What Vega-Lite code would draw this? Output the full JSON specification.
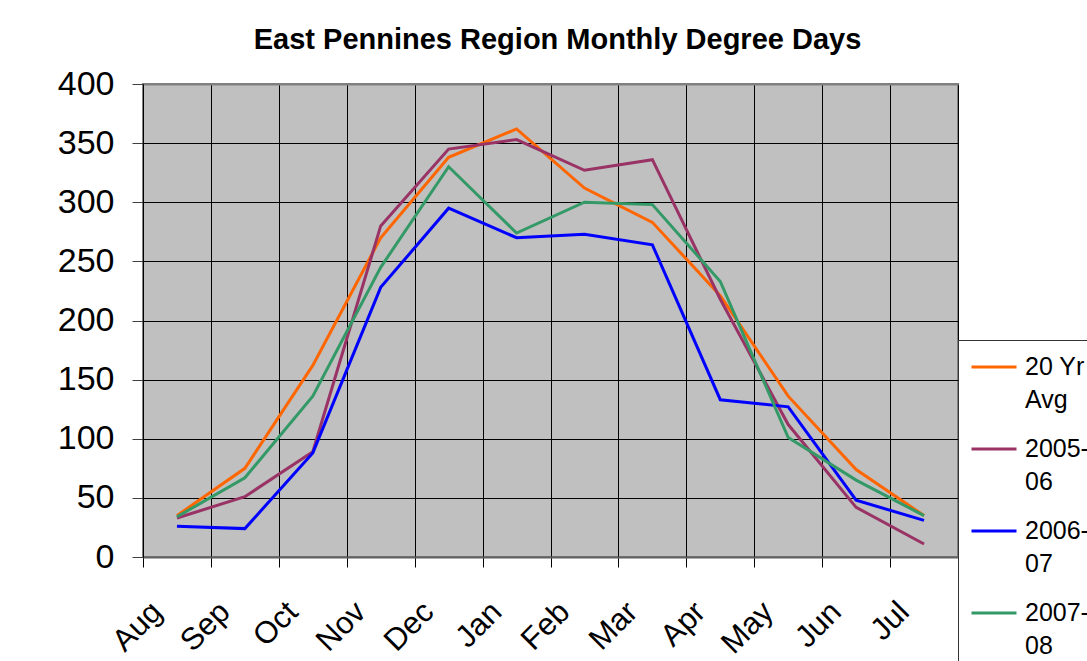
{
  "$schema": "https://vega.github.io/schema/vega-lite/v6.json",
  "width": 815,
  "height": 473,
  "autosize": "none",
  "padding": {"left": 143, "top": 84, "right": 129, "bottom": 104},
  "background": "white",
  "title": {
    "text": "East Pennines Region Monthly Degree Days",
    "font": "Liberation Sans",
    "fontSize": 29,
    "fontWeight": "bold",
    "color": "black",
    "anchor": "middle",
    "frame": "group",
    "baseline": "alphabetic",
    "offset": -11,
    "dx": 7
  },
  "data": {
    "values": [
      {"month": "Aug", "series": "20 Yr Avg", "value": 35},
      {"month": "Sep", "series": "20 Yr Avg", "value": 75},
      {"month": "Oct", "series": "20 Yr Avg", "value": 162},
      {"month": "Nov", "series": "20 Yr Avg", "value": 270},
      {"month": "Dec", "series": "20 Yr Avg", "value": 338},
      {"month": "Jan", "series": "20 Yr Avg", "value": 362},
      {"month": "Feb", "series": "20 Yr Avg", "value": 312},
      {"month": "Mar", "series": "20 Yr Avg", "value": 283},
      {"month": "Apr", "series": "20 Yr Avg", "value": 221},
      {"month": "May", "series": "20 Yr Avg", "value": 136},
      {"month": "Jun", "series": "20 Yr Avg", "value": 74},
      {"month": "Jul", "series": "20 Yr Avg", "value": 35},
      {"month": "Aug", "series": "2005-06", "value": 33},
      {"month": "Sep", "series": "2005-06", "value": 51},
      {"month": "Oct", "series": "2005-06", "value": 89},
      {"month": "Nov", "series": "2005-06", "value": 280},
      {"month": "Dec", "series": "2005-06", "value": 345},
      {"month": "Jan", "series": "2005-06", "value": 353},
      {"month": "Feb", "series": "2005-06", "value": 327},
      {"month": "Mar", "series": "2005-06", "value": 336},
      {"month": "Apr", "series": "2005-06", "value": 218},
      {"month": "May", "series": "2005-06", "value": 112},
      {"month": "Jun", "series": "2005-06", "value": 42},
      {"month": "Jul", "series": "2005-06", "value": 11},
      {"month": "Aug", "series": "2006-07", "value": 26},
      {"month": "Sep", "series": "2006-07", "value": 24},
      {"month": "Oct", "series": "2006-07", "value": 88},
      {"month": "Nov", "series": "2006-07", "value": 228},
      {"month": "Dec", "series": "2006-07", "value": 295},
      {"month": "Jan", "series": "2006-07", "value": 270},
      {"month": "Feb", "series": "2006-07", "value": 273},
      {"month": "Mar", "series": "2006-07", "value": 264},
      {"month": "Apr", "series": "2006-07", "value": 133},
      {"month": "May", "series": "2006-07", "value": 127},
      {"month": "Jun", "series": "2006-07", "value": 48},
      {"month": "Jul", "series": "2006-07", "value": 31},
      {"month": "Aug", "series": "2007-08", "value": 34},
      {"month": "Sep", "series": "2007-08", "value": 67},
      {"month": "Oct", "series": "2007-08", "value": 136},
      {"month": "Nov", "series": "2007-08", "value": 245},
      {"month": "Dec", "series": "2007-08", "value": 330},
      {"month": "Jan", "series": "2007-08", "value": 274},
      {"month": "Feb", "series": "2007-08", "value": 300},
      {"month": "Mar", "series": "2007-08", "value": 298},
      {"month": "Apr", "series": "2007-08", "value": 233},
      {"month": "May", "series": "2007-08", "value": 101},
      {"month": "Jun", "series": "2007-08", "value": 65},
      {"month": "Jul", "series": "2007-08", "value": 35}
    ]
  },
  "mark": {"type": "line", "strokeWidth": 3, "clip": false},
  "encoding": {
    "x": {
      "field": "month",
      "type": "nominal",
      "sort": ["Aug", "Sep", "Oct", "Nov", "Dec", "Jan", "Feb", "Mar", "Apr", "May", "Jun", "Jul"],
      "bandPosition": 0.5,
      "scale": {"type": "band", "paddingInner": 0, "paddingOuter": 0},
      "axis": {
        "title": null,
        "tickBand": "extent",
        "grid": true,
        "gridColor": "black",
        "gridWidth": 1,
        "domainColor": "#606060",
        "domainWidth": 2,
        "tickColor": "black",
        "tickSize": 10,
        "labelAngle": -45,
        "labelAlign": "right",
        "labelBaseline": "middle",
        "labelPadding": 40,
        "labelOffset": -20,
        "labelFont": "Liberation Sans",
        "labelFontSize": 31,
        "labelColor": "black"
      }
    },
    "y": {
      "field": "value",
      "type": "quantitative",
      "scale": {"domain": [0, 400], "nice": false},
      "axis": {
        "title": null,
        "values": [0, 50, 100, 150, 200, 250, 300, 350, 400],
        "grid": true,
        "gridColor": {"condition": {"test": "datum.value === 400", "value": "#808080"}, "value": "black"},
        "gridWidth": {"condition": {"test": "datum.value === 400", "value": 2}, "value": 1},
        "domainColor": "black",
        "tickColor": "#404040",
        "tickSize": 11,
        "labelPadding": 18,
        "labelFont": "Liberation Sans",
        "labelFontSize": 34,
        "labelColor": "black"
      }
    },
    "color": {
      "field": "series",
      "type": "nominal",
      "scale": {
        "domain": ["20 Yr Avg", "2005-06", "2006-07", "2007-08"],
        "range": ["#FF6600", "#993366", "#0000FF", "#339966"]
      },
      "legend": {
        "title": " ",
        "titleOrient": "bottom",
        "titleFontSize": 20,
        "titlePadding": 10,
        "orient": "none",
        "legendX": 815,
        "legendY": 256,
        "padding": 3,
        "symbolOffset": 9,
        "fillColor": "white",
        "strokeColor": "#333333",
        "symbolType": "stroke",
        "symbolStrokeWidth": 3,
        "symbolSize": 2025,
        "labelOffset": 7,
        "labelFont": "Liberation Sans",
        "labelFontSize": 25,
        "labelColor": "black",
        "labelLimit": 300,
        "rowPadding": 12,
        "labelExpr": "datum.label == '20 Yr Avg' ? ['20 Yr', 'Avg'] : [slice(datum.label, 0, 5), slice(datum.label, 5)]",
        "encode": {
          "labels": {"update": {"lineHeight": {"value": 33}}}
        }
      }
    }
  },
  "config": {
    "view": {"fill": "#C0C0C0", "stroke": "#808080", "strokeWidth": 2}
  }
}
